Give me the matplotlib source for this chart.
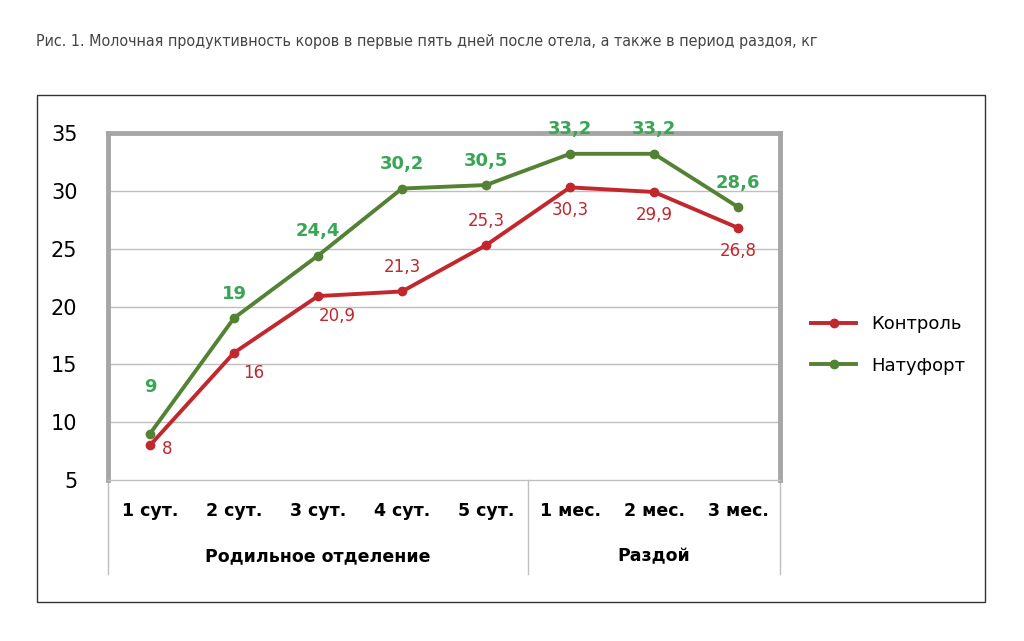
import matplotlib
matplotlib.use("Agg")
import matplotlib.pyplot as plt
from matplotlib.lines import Line2D
from matplotlib.patches import Rectangle

categories = ["1 сут.", "2 сут.", "3 сут.", "4 сут.", "5 сут.", "1 мес.", "2 мес.", "3 мес."]
control = [8, 16, 20.9, 21.3, 25.3, 30.3, 29.9, 26.8]
natufort = [9, 19, 24.4, 30.2, 30.5, 33.2, 33.2, 28.6]
groups = ["Родильное отделение", "Раздой"]
group_spans = [(0, 4), (5, 7)]
yticks = [5, 10, 15, 20, 25, 30, 35]

RED = "#c1272d"
GREEN = "#548235"
GREEN_TXT = "#3aa655"

def fmt(v):
    return ("%g" % v).replace(".", ",")

fig = plt.figure(figsize=(10.24, 6.41), dpi=100)
fig.text(0.035, 0.928, "Рис. 1. Молочная продуктивность коров в первые пять дней после отела, а также в период раздоя, кг",
         fontsize=11.5, color="#444444", fontfamily="DejaVu Sans", fontstretch="condensed")
fig.add_artist(Rectangle((37/1024, 1-602/641), (985-37)/1024, (602-95)/641, transform=fig.transFigure,
                         fill=False, edgecolor="#333333", lw=1))

ax = fig.add_axes([108/1024, 1-480/641, 672/1024, 347/641])
x = list(range(len(categories)))
ax.set_xlim(-0.5, 7.5)
ax.set_ylim(5, 35)
ax.set_yticks(yticks)
ax.set_yticklabels([str(t) for t in yticks], fontsize=15)
ax.tick_params(axis="y", length=0, pad=22)
ax.set_xticks([])
for t in yticks[1:-1]:
    ax.axhline(t, color="#bfbfbf", lw=1, zorder=0)
for s in ["left", "top", "right"]:
    ax.spines[s].set_color("#a6a6a6"); ax.spines[s].set_linewidth(3.5)
ax.spines["bottom"].set_color("#bfbfbf"); ax.spines["bottom"].set_linewidth(1)

l1, = ax.plot(x, control, color=RED, lw=2.8, marker="o", ms=6, label="Контроль", zorder=3)
l2, = ax.plot(x, natufort, color=GREEN, lw=2.8, marker="o", ms=6, label="Натуфорт", zorder=3)

for i, v in enumerate(natufort):
    dy = 30 if i == 0 else 14
    ax.annotate(fmt(v), (i, v), xytext=(0, dy), textcoords="offset points", ha="center",
                fontsize=13, fontweight="bold", color=GREEN_TXT)
for i, v in enumerate(control):
    if i == 0:
        off = (12, -6)
    elif i in (1, 2):
        off = (14, -18)
    elif i in (3, 4):
        off = (0, 14)
    else:
        off = (0, -20)
    ax.annotate(fmt(v), (i, v), xytext=off, textcoords="offset points", ha="center",
                fontsize=12, color=RED)

for i, c in enumerate(categories):
    ax.text(i, -0.09, c, transform=ax.get_xaxis_transform(), ha="center", va="center",
            fontsize=12.5, fontweight="bold")
for g, (a, b) in zip(groups, group_spans):
    ax.text((a + b) / 2, -0.22, g, transform=ax.get_xaxis_transform(), ha="center", va="center",
            fontsize=12.5, fontweight="bold")
for xb in [-0.5, 4.5, 7.5]:
    ax.add_line(Line2D([xb, xb], [0, -0.27], transform=ax.get_xaxis_transform(),
                       color="#bfbfbf", lw=1, clip_on=False))

fig.legend(handles=[l1, l2], loc="center left", bbox_to_anchor=(795/1024, 1-345/641),
           frameon=False, fontsize=13, handlelength=2.5, labelspacing=1.3)
fig.savefig("out.png", dpi=100)
